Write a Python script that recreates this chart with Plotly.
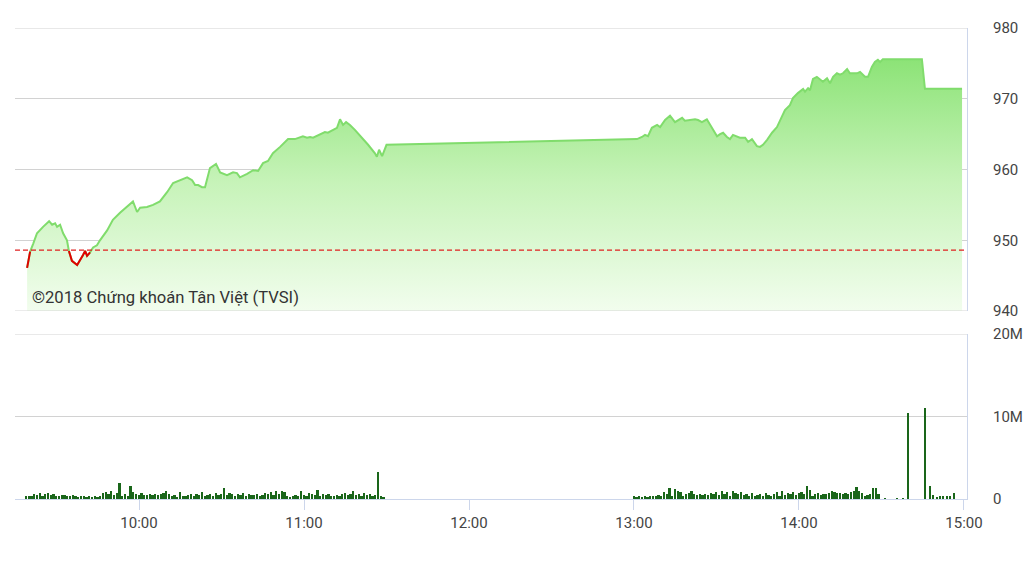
import pandas as pd
import plotly.graph_objects as go

# ---------------- data ----------------
ref_price = 948.6  # previous close (dashed red line)

# minutes after 09:00 for each price point
price_minutes = [
    19.3, 20.4, 21.5, 22.9, 25.1, 27.3, 28.4, 29.5, 30.2, 31.3, 32.4, 33.8, 34.5,
    35.6, 37.5, 38.5, 39.6, 40.4, 41.1, 42.2, 43.3, 44.7, 45.8, 48.4, 50.5, 53.1,
    55.6, 57.8, 59.3, 60.4, 62.9, 65.1, 67.6, 70.2, 72.4, 74.9, 77.5, 79.3, 80.4,
    81.5, 82.9, 84.0, 85.8, 88.0, 89.5, 92.0, 94.2, 95.6, 96.7, 99.3, 101.5, 103.3,
    105.1, 106.9, 108.7, 111.3, 112.4, 114.2, 116.7, 118.5, 119.6, 121.1, 122.2,
    123.3, 125.8, 127.6, 128.7, 130.5, 132.0, 133.1, 134.2, 135.3, 136.7, 138.5,
    141.1, 143.3, 145.8, 146.5, 147.3, 148.4, 150.0,
    240.0, 241.1, 242.9, 244.0, 245.1, 246.5, 248.4, 249.5, 251.3, 253.1, 254.9,
    256.0, 257.5, 258.5, 260.4, 262.2, 263.3, 264.7, 266.5, 267.6, 268.7, 270.2,
    271.3, 272.4, 273.8, 274.9, 276.0, 277.5, 278.5, 280.4, 281.5, 282.9, 284.7,
    285.8, 286.9, 288.4, 290.2, 292.0, 293.1, 294.9, 296.7, 297.8, 299.6, 301.5,
    302.2, 303.3, 304.0, 305.1, 306.5, 307.6, 308.7, 310.2, 311.3, 312.4, 313.8,
    314.9, 316.0, 317.5, 318.5, 319.6, 321.1, 322.2, 324.0, 325.1, 326.5, 327.6,
    328.7, 329.5, 330.5, 344.7, 345.8, 359.3,
]
prices = [
    946.1, 948.4, 949.5, 951.0, 951.9, 952.7, 952.2, 952.4, 951.9, 952.2, 951.0, 950.0, 948.5,
    947.1, 946.5, 947.1, 947.9, 948.5, 947.8, 948.3, 949.0, 949.3, 950.0, 951.4, 952.9, 953.9,
    954.7, 955.5, 954.0, 954.6, 954.7, 955.0, 955.5, 956.8, 958.1, 958.5, 958.9, 958.5, 957.8,
    957.8, 957.5, 957.5, 960.2, 960.8, 959.6, 959.2, 959.6, 959.5, 958.9, 959.4, 959.9, 959.8,
    960.9, 961.2, 962.3, 963.2, 963.6, 964.3, 964.3, 964.5, 964.7, 964.5, 964.6,
    964.5, 964.9, 965.3, 965.2, 965.6, 965.9, 967.1, 966.3, 966.7, 966.3, 965.6,
    964.5, 963.5, 962.3, 961.8, 962.8, 961.9, 963.5,
    964.2, 964.3, 964.6, 964.9, 964.7, 965.9, 966.3, 966.0, 967.0, 967.6, 966.7,
    967.0, 967.3, 966.9, 967.0, 967.1, 967.0, 966.7, 967.1, 966.4, 965.7, 964.7,
    965.0, 965.2, 964.6, 964.3, 964.9, 964.6, 964.5, 964.5, 963.9, 964.3, 963.3,
    963.2, 963.5, 964.2, 965.2, 966.0, 967.0, 968.4, 969.1, 970.1, 970.8, 971.4,
    971.0, 971.5, 971.2, 972.8, 973.1, 972.8, 972.4, 972.9, 972.2, 973.1, 973.6,
    973.4, 973.6, 974.2, 973.6, 973.6, 973.6, 973.8, 973.1, 973.1, 974.5, 975.2,
    975.5, 975.2, 975.6, 975.6, 971.4, 971.4,
]

# volume (millions), one bar per minute
am_vol_start = 19  # 09:19
am_vol = [
    0.3, 0.4, 0.3, 0.6, 0.5, 0.7, 0.4, 0.6, 0.7, 0.5,
    0.6, 0.4, 0.3, 0.5, 0.5, 0.4, 0.3, 0.5, 0.4, 0.2,
    0.3, 0.3, 0.2, 0.3, 0.2, 0.3, 0.2, 0.4, 0.7, 0.8,
    0.6, 0.9, 0.5, 0.7, 1.9, 0.4, 0.6, 0.3, 1.6, 0.8,
    0.6, 0.5, 0.7, 0.5, 0.5, 0.6, 0.5, 0.6, 0.5, 0.6,
    0.7, 0.9, 0.6, 0.3, 0.5, 0.2, 0.8, 0.4, 0.3, 0.5,
    0.6, 0.4, 0.6, 0.5, 0.8, 0.4, 0.5, 0.6, 0.4, 0.7,
    0.5, 0.6, 1.3, 0.5, 0.7, 0.6, 0.4, 0.6, 0.5, 0.7,
    0.4, 0.6, 0.5, 0.5, 0.6, 0.4, 0.5, 0.7, 0.6, 0.8,
    0.5, 0.9, 0.6, 0.9, 0.8, 0.4, 0.2, 0.3, 0.5, 0.4,
    0.9, 0.5, 0.3, 0.7, 0.6, 0.5, 1.1, 0.4, 0.6, 0.5,
    0.6, 0.4, 0.3, 0.5, 0.4, 0.6, 0.7, 0.5, 0.6, 0.9,
    0.5, 0.6, 0.4, 0.7, 0.5, 0.6, 0.3, 0.5, 3.3, 0.4,
    0.2,
]
pm_vol_start = 240  # 13:00
pm_vol = [
    0.3, 0.2, 0.3, 0.2, 0.4, 0.2, 0.3, 0.4, 0.3, 0.5,
    0.4, 0.8, 0.6, 1.3, 0.4, 1.2, 0.9, 0.8, 0.3, 0.6,
    0.7, 0.9, 0.6, 0.5, 0.6, 0.5, 0.6, 0.5, 0.7, 0.6,
    0.8, 0.5, 0.9, 0.6, 0.8, 0.4, 1.0, 0.7, 0.6, 0.8,
    0.5, 0.6, 0.4, 0.7, 0.3, 0.5, 0.6, 0.4, 0.7, 0.5,
    0.4, 0.6, 0.8, 0.4, 0.9, 0.5, 0.7, 0.6, 0.8, 0.5,
    0.7, 0.8, 0.6, 1.5, 1.1, 0.4, 0.6, 0.7, 0.5, 0.6,
    0.6, 0.7, 0.9, 0.8, 0.7, 0.7, 0.6, 0.7, 0.6, 0.8,
    0.9, 1.4, 0.9, 0.7, 0.4, 0.5, 0.6, 1.3, 1.3, 0.6,
]
late_vol_minutes = [331.3, 335.6, 337.8, 339.6, 345.8, 347.6, 348.7, 350.2, 351.3, 352.4, 353.8, 354.9, 356.4]
late_vol = [0.1, 0.05, 0.1, 10.4, 11.0, 1.5, 0.5, 0.2, 0.3, 0.3, 0.3, 0.3, 0.7]

price_ticks = [940, 950, 960, 970, 980]
vol_ticks = [0, 10, 20]
vol_tick_text = ["0", "10M", "20M"]
hour_ticks = ["10:00", "11:00", "12:00", "13:00", "14:00", "15:00"]
watermark = "©2018 Chứng khoán Tân Việt (TVSI)"

# ---------------- build ----------------
base = pd.Timestamp("2018-01-02 09:00")
def to_t(mins):
    return [base + pd.Timedelta(minutes=m) for m in mins]

price_t = to_t(price_minutes)
vol_minutes = ([am_vol_start + i for i in range(len(am_vol))]
               + [pm_vol_start + i for i in range(len(pm_vol))]
               + late_vol_minutes)
vol_values = am_vol + pm_vol + late_vol
vol_t = to_t(vol_minutes)
red_y = [p if p < ref_price else None for p in prices]

FONT = "Roboto"
LBL = "#444444"
GRID = "#d2d2d2"
AXL = "#ccd6eb"

fig = go.Figure()
fig.add_trace(go.Scatter(
    x=price_t, y=prices, mode="lines",
    line=dict(color="#80dc6c", width=2),
    fill="tozeroy",
    fillgradient=dict(type="vertical", start=940, stop=977,
                      colorscale=[[0, "rgba(242,253,238,1)"], [0.5, "rgb(198,243,184)"], [1, "rgb(136,226,114)"]]),
    xaxis="x", yaxis="y", hoverinfo="skip", showlegend=False,
))
fig.add_trace(go.Scatter(
    x=price_t, y=red_y, mode="lines", connectgaps=False,
    line=dict(color="#e00000", width=2),
    xaxis="x", yaxis="y", hoverinfo="skip", showlegend=False,
))
fig.add_trace(go.Scatter(
    x=[base + pd.Timedelta(minutes=14.9), base + pd.Timedelta(minutes=362)], y=[ref_price, ref_price],
    mode="lines", line=dict(color="#e02020", width=1.3, dash="5px,3px"),
    xaxis="x", yaxis="y", hoverinfo="skip", showlegend=False,
))
fig.add_trace(go.Bar(
    x=vol_t, y=vol_values, marker=dict(color="#1a661a", line=dict(width=0)),
    width=36000, xaxis="x2", yaxis="y2", hoverinfo="skip", showlegend=False,
))

xr = [base + pd.Timedelta(minutes=14.9), base + pd.Timedelta(minutes=361.1)]
tick_t = [pd.Timestamp("2018-01-02 " + h) for h in hour_ticks]

# edge gridlines (plotly omits gridlines at the range ends)
edge_shapes = []
for yv in (price_ticks[0], price_ticks[-1]):
    edge_shapes.append(dict(type="line", xref="x domain", yref="y", x0=0, x1=1, y0=yv, y1=yv,
                            line=dict(color=GRID, width=1), layer="above"))
edge_shapes.append(dict(type="line", xref="x2 domain", yref="y2", x0=0, x1=1,
                        y0=vol_ticks[-1], y1=vol_ticks[-1], line=dict(color=GRID, width=1), layer="above"))

# page body has an 8px margin: figure spans page x 8..1026, y 8..573
fig.update_layout(
    width=1018, height=565,
    margin=dict(l=7, r=59, t=20, b=74, autoexpand=False),
    paper_bgcolor="white", plot_bgcolor="white",
    font=dict(family=FONT, color=LBL, size=15),
    bargap=0,
    shapes=edge_shapes,
    xaxis=dict(domain=[0, 1], range=xr, anchor="y", matches="x2", automargin=False,
               showticklabels=False, showgrid=False, zeroline=False, showline=False,
               tickvals=tick_t),
    yaxis=dict(domain=[0.399, 1], range=[940, 980], side="right", anchor="x", automargin=False,
               tickvals=price_ticks, gridcolor=GRID, gridwidth=1, zeroline=False,
               showline=True, linecolor=AXL, linewidth=1, ticks="",
               ticklabelstandoff=22, tickfont=dict(size=15, color=LBL)),
    xaxis2=dict(domain=[0, 1], range=xr, anchor="y2", automargin=False,
                tickvals=tick_t, ticktext=hour_ticks, showgrid=False, zeroline=False,
                showline=True, linecolor=AXL, linewidth=1,
                ticks="outside", ticklen=10, tickcolor=AXL, tickwidth=1,
                tickfont=dict(size=15, color=LBL)),
    yaxis2=dict(domain=[0, 0.350], range=[0, 20], side="right", anchor="x2", automargin=False,
                tickvals=vol_ticks, ticktext=vol_tick_text, gridcolor=GRID, gridwidth=1,
                zeroline=False, showline=True, linecolor=AXL, linewidth=1, ticks="",
                ticklabelstandoff=22, tickfont=dict(size=15, color=LBL)),
    annotations=[dict(text=watermark, xref="paper", yref="paper",
                      x=0.016, y=(573 - 74 - 297) / 471, xanchor="left", yanchor="middle",
                      showarrow=False, font=dict(family=FONT, size=16.6, color="#333333"))],
)

fig.write_html("out.html")
